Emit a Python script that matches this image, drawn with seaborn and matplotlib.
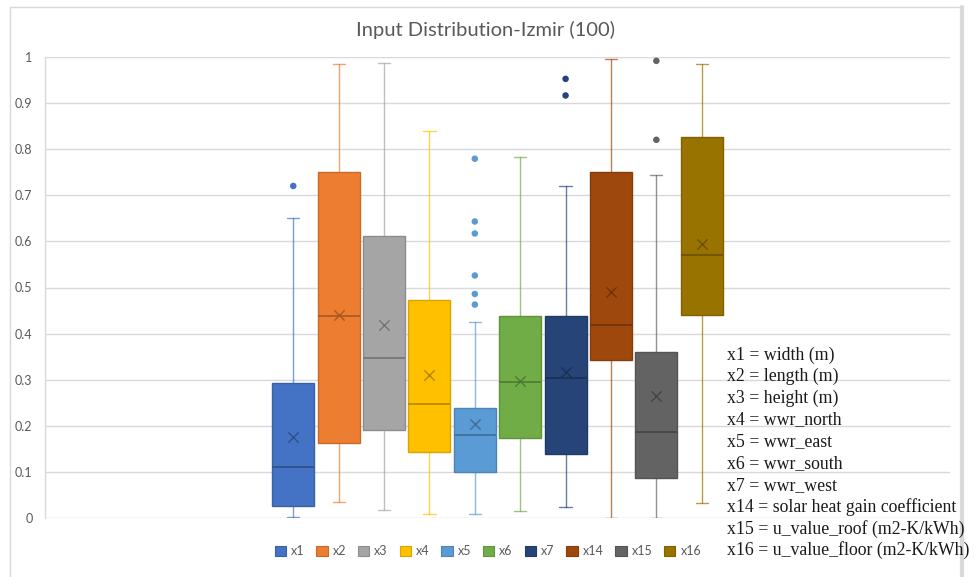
import numpy as np
import pandas as pd
import matplotlib
matplotlib.use("Agg")
import matplotlib.pyplot as plt
import matplotlib.colors as mcolors
from matplotlib.patches import Patch
from matplotlib.lines import Line2D
import seaborn as sns

# ---------------- data ----------------
series = ["x1", "x2", "x3", "x4", "x5", "x6", "x7", "x14", "x15", "x16"]
q1 = [0.027, 0.163, 0.191, 0.144, 0.101, 0.175, 0.140, 0.344, 0.087, 0.440]
median = [0.112, 0.438, 0.348, 0.247, 0.180, 0.295, 0.305, 0.418, 0.188, 0.570]
q3 = [0.294, 0.751, 0.612, 0.474, 0.238, 0.438, 0.438, 0.750, 0.361, 0.825]
whis_lo = [0.002, 0.036, 0.018, 0.009, 0.009, 0.016, 0.024, 0.001, 0.001, 0.034]
whis_hi = [0.650, 0.984, 0.987, 0.838, 0.425, 0.782, 0.719, 0.994, 0.744, 0.984]
means = [0.177, 0.440, 0.418, 0.310, 0.204, 0.298, 0.316, 0.491, 0.264, 0.595]
outlier_series = ["x1", "x5", "x5", "x5", "x5", "x5", "x5", "x7", "x7", "x15", "x15"]
outlier_values = [0.720, 0.779, 0.643, 0.617, 0.526, 0.486, 0.463, 0.952, 0.916, 0.991, 0.820]
y_ticks = [0, 0.1, 0.2, 0.3, 0.4, 0.5, 0.6, 0.7, 0.8, 0.9, 1.0]
y_tick_labels = ["0", "0.1", "0.2", "0.3", "0.4", "0.5", "0.6", "0.7", "0.8", "0.9", "1"]
title = "Input Distribution-Izmir (100)"
descriptions = [
    "x1 = width (m)",
    "x2 = length (m)",
    "x3 = height (m)",
    "x4 = wwr_north",
    "x5 = wwr_east",
    "x6 = wwr_south",
    "x7 = wwr_west",
    "x14 = solar heat gain coefficient",
    "x15 = u_value_roof (m2-K/kWh)",
    "x16 = u_value_floor (m2-K/kWh)",
]
colors = ["#4472C4", "#ED7D31", "#A5A5A5", "#FFC000", "#5B9BD5",
          "#70AD47", "#264478", "#9E480E", "#636363", "#997300"]

# ---------------- styling ----------------
sns.set_theme(style="white")
plt.rcParams["font.family"] = ["Lato", "DejaVu Sans"]
TXT = "#595959"
GRID = "#D9D9D9"


def darker(c, f=0.78):
    r, g, b = mcolors.to_rgb(c)
    return (r * f, g * f, b * f)


fig = plt.figure(figsize=(9.77, 5.77), dpi=100)
ax = fig.add_axes([45 / 977, 58.7 / 577, 905 / 977, 461.6 / 577])

positions = list(range(len(series)))
stats = []
for i, name in enumerate(series):
    stats.append(dict(label=name, med=median[i], q1=q1[i], q3=q3[i],
                      whislo=whis_lo[i], whishi=whis_hi[i], mean=means[i], fliers=[]))

bp = ax.bxp(stats, positions=positions, widths=0.925, patch_artist=True,
            showmeans=False, showfliers=False, capwidths=0.27, manage_ticks=False)

for i, c in enumerate(colors):
    bp["boxes"][i].set(facecolor=c, edgecolor=darker(c, 0.85), linewidth=1.0, zorder=3)
    bp["medians"][i].set(color=darker(c, 0.72), linewidth=1.3, zorder=4)
    for w in bp["whiskers"][2 * i:2 * i + 2]:
        w.set(color=c, linewidth=1.0, alpha=0.7, zorder=2)
    for cp in bp["caps"][2 * i:2 * i + 2]:
        cp.set(color=c, linewidth=1.0, alpha=0.7, zorder=2)

pos_of = {s: p for s, p in zip(series, positions)}
pal = dict(zip(series, colors))

# means (X markers)
for i in range(len(series)):
    ax.scatter(positions[i], means[i], marker="x", s=55,
               color=darker(colors[i], 0.7), linewidths=1.0, zorder=5)

# outliers
out_df = pd.DataFrame({"series": outlier_series, "value": outlier_values})
out_df["pos"] = out_df["series"].map(pos_of)
sns.scatterplot(data=out_df, x="pos", y="value", hue="series", palette=pal,
                s=22, linewidth=0, legend=False, ax=ax, zorder=5)

ax.set_xlim(-5.47, 14.47)
ax.set_ylim(0, 1)
ax.set_yticks(y_ticks)
ax.set_yticklabels(y_tick_labels)
ax.set_xticks([])
ax.set_xlabel("")
ax.set_ylabel("")
ax.tick_params(axis="y", length=0, pad=9, labelsize=9, labelcolor=TXT)
ax.grid(axis="y", color=GRID, linewidth=1.0, zorder=0)
ax.set_axisbelow(True)
for s in ["top", "right", "bottom"]:
    ax.spines[s].set_visible(False)
ax.spines["left"].set_color(GRID)
ax.spines["left"].set_linewidth(1.0)

# title
fig.text(485 / 977, 1 - 30 / 577, title, ha="center", va="center",
         fontsize=14.5, color=TXT)

# legend
handles = [Patch(facecolor=c, edgecolor=darker(c, 0.85), linewidth=0.8) for c in colors]
leg = fig.legend(handles, series, loc="center", bbox_to_anchor=(488 / 977, 1 - 551 / 577),
                 ncol=10, frameon=False, fontsize=9, handlelength=0.9, handleheight=0.9,
                 handletextpad=0.4, columnspacing=0.95, labelcolor=TXT)

# description text
for k, line in enumerate(descriptions):
    fig.text(727 / 977, 1 - (355 + k * 21.7) / 577, line, ha="left", va="center",
             fontsize=12.8, color="#1a1a1a", family=["Liberation Serif", "DejaVu Serif"])

# outer chart border
fig.add_artist(Line2D([9.5 / 977, 9.5 / 977], [0, 1 - 7 / 577], transform=fig.transFigure,
                      color=GRID, linewidth=1.0))
fig.add_artist(Line2D([9.5 / 977, 962 / 977], [1 - 7 / 577, 1 - 7 / 577], transform=fig.transFigure,
                      color=GRID, linewidth=1.0))
fig.add_artist(Line2D([962 / 977, 962 / 977], [0, 1 - 7 / 577], transform=fig.transFigure,
                      color=GRID, linewidth=3.0))

fig.savefig("out.png", dpi=100, facecolor="white")
